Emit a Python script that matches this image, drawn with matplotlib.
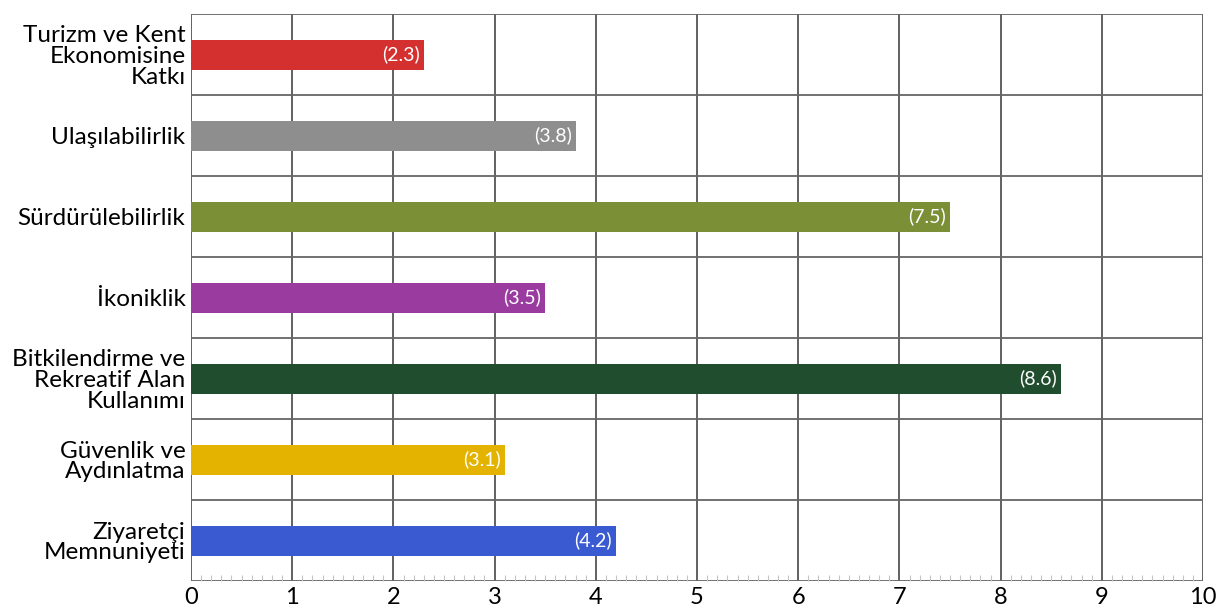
import matplotlib
matplotlib.use('Agg')
import matplotlib.pyplot as plt
import numpy as np

#Chart data (top to bottom)
categories = ['Turizm ve Kent\nEkonomisine\nKatkı', 'Ulaşılabilirlik', 'Sürdürülebilirlik', 'İkoniklik',
              'Bitkilendirme ve\nRekreatif Alan\nKullanımı', 'Güvenlik ve\nAydınlatma', 'Ziyaretçi\nMemnuniyeti']
scores = [2.3, 3.8, 7.5, 3.5, 8.6, 3.1, 4.2]
bar_colors = ['#d3302f', '#8e8e8e', '#7b9036', '#9a3b9f', '#1f4d2e', '#e3b300', '#3a5ad2']
x_ticks = list(range(0, 11))

plt.rcParams['font.family'] = ['Lato', 'DejaVu Sans']

fig = plt.figure(figsize=(12.22, 6.11), dpi=100)
ax = fig.add_axes([0.1563, 0.049, 0.8282, 0.928])

y = np.arange(len(categories))
ax.barh(y, scores, height=0.37, color=bar_colors, zorder=3)

#Value labels inside the bar end
for yi, v in zip(y, scores):
    ax.text(v - 0.04, yi, '(%.1f)' % v, ha='right', va='center', color='white', fontsize=14, zorder=4)

ax.set_ylim(len(categories) - 0.5, -0.5)
ax.set_xlim(0, 10)
ax.set_yticks(y)
ax.set_yticklabels(categories, fontsize=17.5, linespacing=0.98, ha='right')
ax.tick_params(axis='y', length=0, pad=4)
ax.set_xticks(x_ticks)
ax.tick_params(axis='x', labelsize=17, length=0, pad=4)
ax.set_xticks(np.arange(0, 10.01, 0.1), minor=True)
ax.tick_params(axis='x', which='minor', direction='in', length=4, color='#c4c4c4', width=0.8)

#Grid: vertical lines at integers, horizontal separators between categories
for xv in x_ticks:
    ax.axvline(xv, color='#555555', lw=1.3, zorder=1)
for b in np.arange(-0.5, len(categories), 1.0):
    ax.axhline(b, color='#666666', lw=1.3, zorder=1)

for s in ax.spines.values():
    s.set_visible(False)

fig.savefig('out.png', dpi=100)
